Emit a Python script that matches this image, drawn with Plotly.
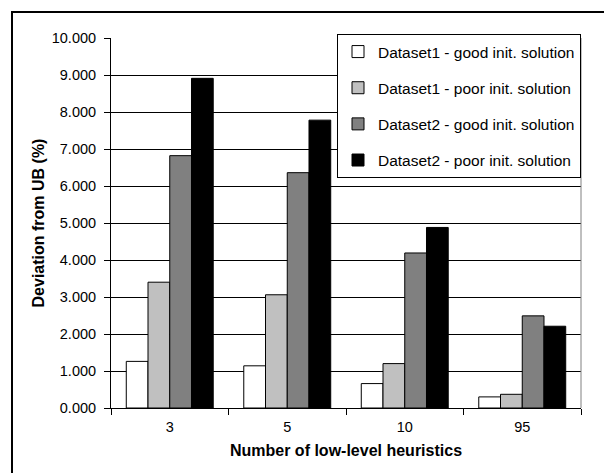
import plotly.graph_objects as go

categories = ["3", "5", "10", "95"]
series_names = [
    "Dataset1 - good init. solution",
    "Dataset1 - poor init. solution",
    "Dataset2 - good init. solution",
    "Dataset2 - poor init. solution",
]
d1_good = [1.26, 1.14, 0.66, 0.30]
d1_poor = [3.40, 3.06, 1.20, 0.37]
d2_good = [6.82, 6.36, 4.19, 2.49]
d2_poor = [8.91, 7.78, 4.88, 2.21]
series_values = [d1_good, d1_poor, d2_good, d2_poor]
colors = ["#FFFFFF", "#C0C0C0", "#808080", "#000000"]
y_ticks = [0, 1, 2, 3, 4, 5, 6, 7, 8, 9, 10]

FONT = "Liberation Sans, Arial, sans-serif"

fig = go.Figure()
for i, (name, vals, col) in enumerate(zip(series_names, series_values, colors)):
    fig.add_trace(go.Bar(
        x=categories, y=vals, name=name, legendgroup=f"g{i}",
        marker=dict(color=col, line=dict(color="#000000", width=1)),
    ))

L, R, T, B = 103, 573, 30, 400
PW, PH = R - L, B - T

fig.update_layout(
    width=612, height=473,
    margin=dict(l=L, r=612 - R, t=T, b=473 - B),
    paper_bgcolor="white", plot_bgcolor="white",
    font=dict(family=FONT, size=14.5, color="#000000"),
    barmode="group", bargap=0.26, bargroupgap=0,
    showlegend=True,
    legend=dict(
        x=1, y=1 + 4 / PH, xanchor="right", yanchor="top",
        bgcolor="white", bordercolor="#000000", borderwidth=1,
        font=dict(family=FONT, size=15.5, color="#000000"),
        tracegroupgap=13, itemwidth=30,
    ),
    xaxis=dict(
        type="category", showgrid=False, showline=True, linecolor="#000000", linewidth=1,
        ticks="outside", tickson="boundaries", ticklen=6, tickcolor="#000000",
        tickfont=dict(size=14.5), ticklabelstandoff=6,
        title=dict(text="<b>Number of low-level heuristics</b>", font=dict(size=16), standoff=10),
    ),
    yaxis=dict(
        range=[0, 10], tickvals=y_ticks, tickformat=".3f",
        showgrid=True, gridcolor="#000000", gridwidth=1,
        showline=True, linecolor="#000000", linewidth=1,
        ticks="outside", ticklen=6, tickcolor="#000000",
        tickfont=dict(size=14.5), zeroline=False, ticklabelstandoff=5,
        title=dict(text="<b>Deviation from UB (%)</b>", font=dict(size=16), standoff=3),
    ),
    shapes=[
        dict(type="line", xref="paper", yref="paper", x0=1, x1=1, y0=0, y1=1,
             line=dict(color="#808080", width=1)),
        dict(type="rect", xref="paper", yref="paper",
             x0=(4 - L) / PW, x1=(640 - L) / PW, y0=-(500 - B) / PH, y1=(B - 4) / PH,
             line=dict(color="#000000", width=2), layer="below"),
    ],
)

fig.write_html("out.html")
